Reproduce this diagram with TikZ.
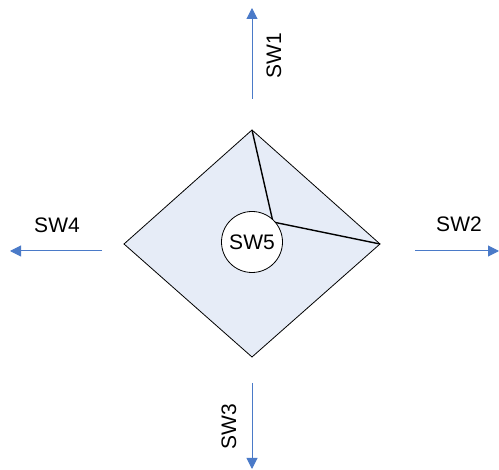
\documentclass[tikz,border=0pt]{standalone}
\usepackage{fontspec}
\setmainfont{Liberation Sans}
\usetikzlibrary{arrows.meta}
\definecolor{arrowblue}{HTML}{4A7AC8}
\definecolor{fillblue}{HTML}{E6ECF7}
\begin{document}
\begin{tikzpicture}[x=1pt,y=-1pt,
  conn/.style={draw=arrowblue,line width=1pt,-{Triangle[length=11pt,width=11pt]}},
  lbl/.style={font=\fontsize{21}{24}\selectfont,inner sep=0pt}]
\useasboundingbox (0,0) rectangle (499,470);
\coordinate (T) at (252,130);
\coordinate (R) at (380,244);
\coordinate (B) at (252,357);
\coordinate (L) at (124,244);
\coordinate (M) at (273,222);
\draw[fill=fillblue,line width=0.8pt] (T) -- (R) -- (B) -- (L) -- cycle;
\draw[line width=1.4pt] (T) -- (M) -- (R);
\node[draw,circle,fill=white,line width=0.8pt,minimum size=61pt,inner sep=0pt,font=\fontsize{21}{24}\selectfont] (s5) at (252,242) {SW5};
% arrows
\coordinate (a1s) at (252,99); \coordinate (a1e) at (252,8);
\coordinate (a2s) at (415,251); \coordinate (a2e) at (499,251);
\coordinate (a3s) at (252,383); \coordinate (a3e) at (252,469);
\coordinate (a4s) at (102,251); \coordinate (a4e) at (10,251);
\draw[conn] (a1s) -- (a1e);
\draw[conn] (a2s) -- (a2e);
\draw[conn] (a3s) -- (a3e);
\draw[conn] (a4s) -- (a4e);
\node[lbl,rotate=90] (l1) at (274,56) {SW1};
\node[lbl] (l2) at (459,224) {SW2};
\node[lbl,rotate=90] (l3) at (229,427) {SW3};
\node[lbl] (l4) at (57,225) {SW4};
\end{tikzpicture}
\end{document}
